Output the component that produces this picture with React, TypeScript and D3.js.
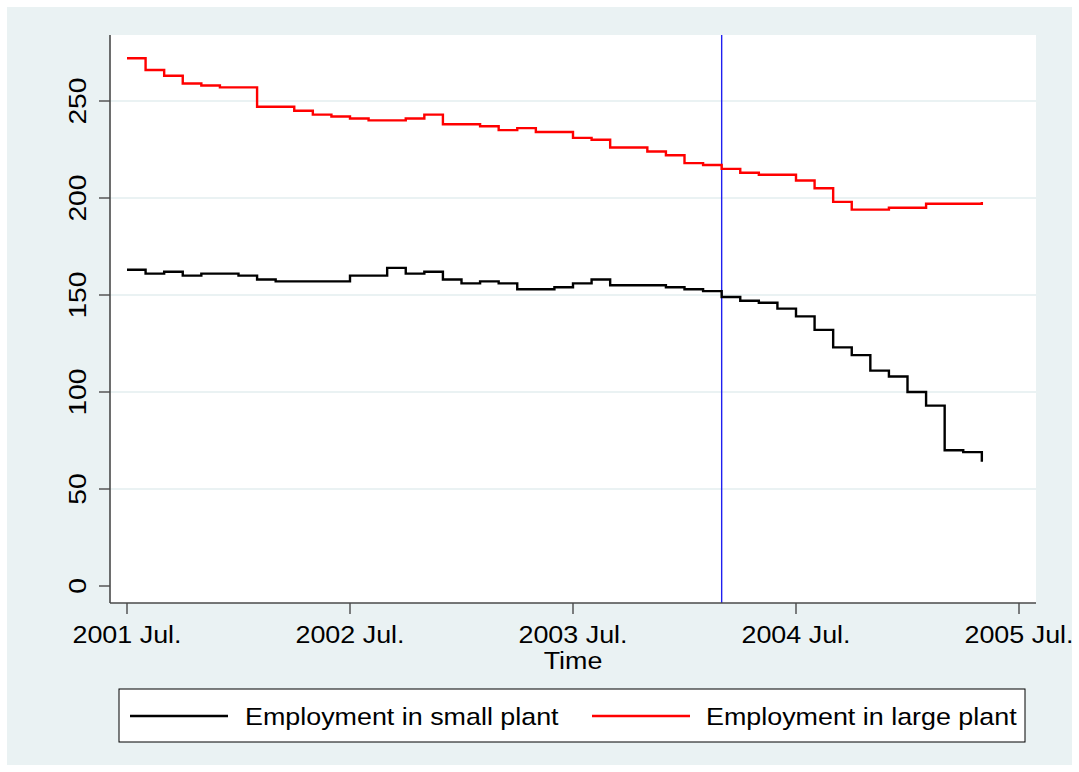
import React from "react";
import * as d3 from "d3";

// Monthly observations, July 2001 .. May 2005
const startYear = 2001;
const startMonth = 7;
const smallPlant = [163,161,162,160,161,161,160,158,157,157,157,157,160,160,164,161,162,158,156,157,156,153,153,154,156,158,155,155,155,154,153,152,149,147,146,143,139,132,123,119,111,108,100,93,70,69,64];
const largePlant = [272,266,263,259,258,257,257,247,247,245,243,242,241,240,240,241,243,238,238,237,235,236,234,234,231,230,226,226,224,222,218,217,215,213,212,212,209,205,198,194,194,195,195,197,197,197,198];
const xTickYears = [2001, 2002, 2003, 2004, 2005];
const xTickLabels = ["2001 Jul.", "2002 Jul.", "2003 Jul.", "2004 Jul.", "2005 Jul."];
const yTicks = [0, 50, 100, 150, 200, 250];
const gridValues = [50, 100, 150, 200, 250];
const eventLine = { year: 2004, month: 3 };
const seriesNames = ["Employment in small plant", "Employment in large plant"];
const seriesColors = ["#000000", "#ff0000"];
const xTitle = "Time";

const tm = (y: number, m: number) => (y - 1960) * 12 + (m - 1);

export default function App() {
  const W = 1079, H = 772;
  const plot = { left: 110, right: 1036, top: 35, bottom: 603 };
  const x = d3.scaleLinear().domain([tm(2001, 7), tm(2005, 7)]).range([127, 1019]);
  const y = d3.scaleLinear().domain([0, 250]).range([586, 101]);
  const t0 = tm(startYear, startMonth);
  const line = d3.line<number>()
    .x((_, i) => x(t0 + i))
    .y((d) => y(d))
    .curve(d3.curveStepAfter);
  const font = "'Liberation Sans', Arial, Helvetica, sans-serif";
  const axisColor = "#4a4a4a";
  const sx = 1.12;
  const series = [smallPlant, largePlant];

  return (
    <svg width={W} height={H} style={{ position: "absolute", left: 0, top: 0 }} fontFamily={font}>
      <rect x={0} y={0} width={W} height={H} fill="#ffffff" />
      <rect x={7} y={7} width={W - 14} height={H - 14} fill="#eaf2f3" />
      <rect x={plot.left} y={plot.top} width={plot.right - plot.left} height={plot.bottom - plot.top} fill="#ffffff" />
      {gridValues.map((v) => (
        <line key={v} x1={plot.left} x2={plot.right} y1={y(v)} y2={y(v)} stroke="#eaf2f3" strokeWidth={2} />
      ))}
      <line x1={x(tm(eventLine.year, eventLine.month))} x2={x(tm(eventLine.year, eventLine.month))} y1={plot.top} y2={plot.bottom} stroke="#1f1ff0" strokeWidth={1.4} />
      {series.map((s, k) => (
        <path key={k} d={line(s) || ""} fill="none" stroke={seriesColors[k]} strokeWidth={2.4} />
      ))}
      {/* axes */}
      <line x1={plot.left} x2={plot.left} y1={plot.top} y2={plot.bottom} stroke={axisColor} strokeWidth={1.6} />
      <line x1={plot.left} x2={plot.right} y1={plot.bottom} y2={plot.bottom} stroke={axisColor} strokeWidth={1.6} />
      {yTicks.map((v) => (
        <g key={v}>
          <line x1={plot.left - 11} x2={plot.left} y1={y(v)} y2={y(v)} stroke={axisColor} strokeWidth={1.4} />
          <text transform={`translate(86,${y(v)}) rotate(-90) scale(1.18,1)`} textAnchor="middle" fontSize={24} fill="#000">{v}</text>
        </g>
      ))}
      {xTickYears.map((yr, i) => (
        <g key={yr}>
          <line x1={x(tm(yr, 7))} x2={x(tm(yr, 7))} y1={plot.bottom} y2={plot.bottom + 11} stroke={axisColor} strokeWidth={1.4} />
          <text transform={`translate(${x(tm(yr, 7))},643) scale(${sx},1)`} textAnchor="middle" fontSize={24} fill="#000">{xTickLabels[i]}</text>
        </g>
      ))}
      <text transform={`translate(${(plot.left + plot.right) / 2},669) scale(${sx},1)`} textAnchor="middle" fontSize={24} fill="#000">{xTitle}</text>
      {/* legend */}
      <rect x={119} y={689} width={906} height={53} fill="#ffffff" stroke="#000" strokeWidth={1} />
      <line x1={130} x2={228} y1={716} y2={716} stroke={seriesColors[0]} strokeWidth={2.4} />
      <text transform={`translate(245,725) scale(${sx},1)`} fontSize={24} fill="#000">{seriesNames[0]}</text>
      <line x1={592} x2={690} y1={716} y2={716} stroke={seriesColors[1]} strokeWidth={2.4} />
      <text transform={`translate(706,725) scale(${sx},1)`} fontSize={24} fill="#000">{seriesNames[1]}</text>
    </svg>
  );
}
